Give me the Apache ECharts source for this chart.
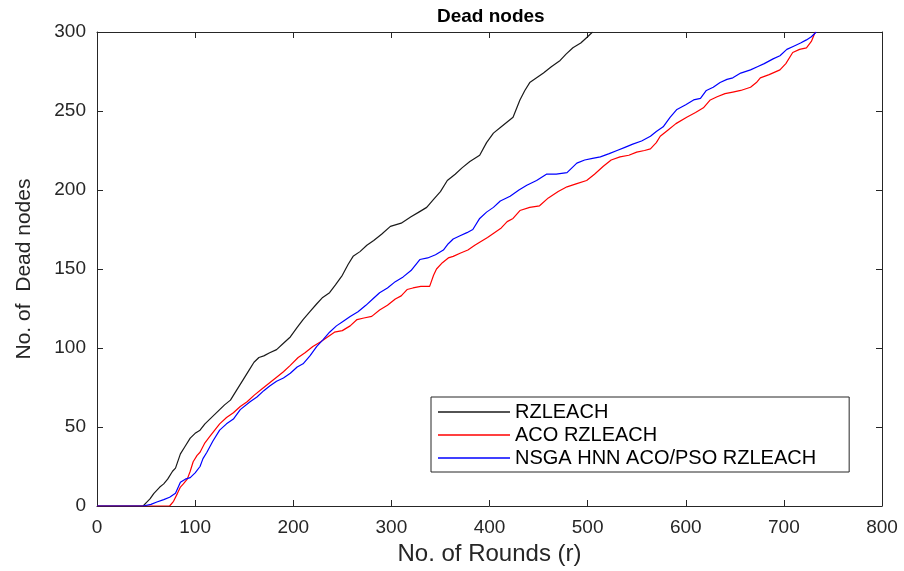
<!DOCTYPE html>
<html>
<head>
<meta charset="utf-8">
<script src="https://cdn.jsdelivr.net/npm/echarts@6/dist/echarts.min.js"></script>
<style>html,body{margin:0;padding:0;background:#fff;}#c{width:904px;height:571px;}</style>
</head>
<body>
<div id="c"></div>
<script>
const titleText = 'Dead nodes';
const xName = 'No. of Rounds (r)';
const yName = 'No. of  Dead nodes';
const seriesNames = ['RZLEACH', 'ACO RZLEACH', 'NSGA HNN ACO/PSO RZLEACH'];

const rzleachR = [0,47,50,54,58,64,68,72,77,80,85,90,95,100,105,110,115,120,125,130,136,142,149,155,160,165,170,176,183,190,197,204,210,217,224,230,237,243,250,256,261,268,275,282,290,299,310,320,328,336,343,350,357,365,372,380,390,397,404,412,418,424,431,436,441,448,455,463,472,478,485,493,500,505];
const rzleachV = [0,0,2,4.5,8,12,14,17,22,24,33,38,43,46,48,52,55,58,61,64,67,73,80,86,91,94,95,97,99,103,107,113,118,123,128,132,135,140,146,153,158,161,165,168,172,177,179,183,186,189,194,199,206,210,214,218,222,230,236,240,243,246,257,263,268,271,274,278,282,286,290,293,297,300];

const acoR = [0,74,78,82,85,88,92,95,98,102,105,110,115,120,125,132,139,146,153,160,168,176,184,190,197,205,212,220,228,235,242,250,258,265,272,280,288,296,304,310,316,322,330,339,343,346,352,358,363,370,378,385,390,398,405,412,418,424,431,441,451,460,470,479,489,499,507,516,524,533,542,550,558,564,570,574,582,590,601,610,618,625,632,640,648,656,666,672,676,685,696,702,709,716,723,728,732];
const acoV = [0,0,3,8,12,14,17,22,28,32,34,40,44,48,52,56,59,63,66,70,74,78,82,85,89,94,97,101,104,107,110,111,114,118,119,120,124,127,131,133,137,138,139,139,146,150,154,157,158,160,162,165,167,170,173,176,180,182,187,189,190,195,199,202,204,206,210,215,219,221,222,224,225,226,230,234,238,242,246,249,252,257,259,261,262,263,265,268,271,273,276,280,287,289,290,294,300];

const nsgaR = [0,47,55,61,68,74,80,85,90,95,100,105,108,112,118,125,132,139,146,156,163,170,176,183,190,197,204,210,217,224,230,237,244,251,258,266,274,281,288,296,304,312,320,329,337,345,353,358,363,370,377,383,390,397,404,411,421,430,438,448,458,468,479,484,489,497,505,513,522,530,538,546,555,564,570,577,584,591,600,608,615,621,628,635,642,648,656,666,673,680,689,696,703,710,717,723,728,733];
const nsgaV = [0,0,1,2.5,4,5.5,8,15,17,18,21,25,30,34,41,48,52,55,61,66,69,73,76,79,81,84,88,90,95,101,105,110,114,117,120,123,127,131,135,138,142,145,149,156,157,159,162,166,169,171,173,175,182,186,189,193,196,200,203,206,210,210,211,214,217,219,220,221,223,225,227,229,231,234,237,240,246,251,254,257,258,263,265,268,270,271,274,276,278,280,283,285,289,291,293,295,297,300];

const xMin = 0, xMax = 800, xStep = 100;
const yMin = 0, yMax = 300, yStep = 50;

function pairs(r, v) { return r.map((x, i) => [x, v[i]]); }

const axisColor = '#262626';
const font = 'Arial, "Liberation Sans", Helvetica, sans-serif';

const chart = echarts.init(document.getElementById('c'), null, {renderer: 'canvas'});
const baseX = {
  type: 'value', min: xMin, max: xMax, interval: xStep,
  axisLine: {show: true, onZero: false, lineStyle: {color: axisColor, width: 1}},
  axisTick: {show: true, inside: true, length: 6, lineStyle: {color: axisColor}},
  splitLine: {show: false}
};
const baseY = {
  type: 'value', min: yMin, max: yMax, interval: yStep,
  axisLine: {show: true, onZero: false, lineStyle: {color: axisColor, width: 1}},
  axisTick: {show: true, inside: true, length: 6, lineStyle: {color: axisColor}},
  splitLine: {show: false}
};
chart.setOption({
  backgroundColor: '#ffffff',
  animation: false,
  title: {
    text: titleText, left: 432, top: 2,
    textStyle: {fontFamily: font, fontWeight: 'bold', fontSize: 19, color: '#000'}
  },
  grid: {left: 97, right: 22, top: 32, bottom: 64, containLabel: false},
  xAxis: [
    Object.assign({}, baseX, {
      position: 'bottom',
      name: xName, nameLocation: 'middle', nameGap: 36,
      nameTextStyle: {fontFamily: font, fontSize: 24, color: axisColor},
      axisLabel: {show: true, margin: 12, fontFamily: font, fontSize: 19, color: axisColor}
    }),
    Object.assign({}, baseX, {position: 'top', axisLabel: {show: false}})
  ],
  yAxis: [
    Object.assign({}, baseY, {
      position: 'left',
      name: yName, nameLocation: 'middle', nameGap: 62,
      nameTextStyle: {fontFamily: font, fontSize: 21, color: axisColor},
      axisLabel: {show: true, margin: 11, fontFamily: font, fontSize: 19, color: axisColor}
    }),
    Object.assign({}, baseY, {position: 'right', axisLabel: {show: false}})
  ],
  legend: {
    orient: 'vertical', left: 431, top: 397,
    padding: [4, 33, 3, 7],
    icon: 'rect',
    itemWidth: 72, itemHeight: 1.3, itemGap: 1,
    borderColor: axisColor, borderWidth: 1, borderRadius: 0,
    backgroundColor: '#fff',
    textStyle: {fontFamily: font, fontSize: 20, color: '#000', lineHeight: 22},
    data: seriesNames
  },
  series: [
    {name: seriesNames[0], type: 'line', data: pairs(rzleachR, rzleachV), symbol: 'none', lineStyle: {color: '#1a1a1a', width: 1.2}, itemStyle: {color: '#1a1a1a'}},
    {name: seriesNames[1], type: 'line', data: pairs(acoR, acoV), symbol: 'none', lineStyle: {color: '#ff0000', width: 1.2}, itemStyle: {color: '#ff0000'}},
    {name: seriesNames[2], type: 'line', data: pairs(nsgaR, nsgaV), symbol: 'none', lineStyle: {color: '#0000ff', width: 1.2}, itemStyle: {color: '#0000ff'}}
  ]
});
</script>
</body>
</html>
